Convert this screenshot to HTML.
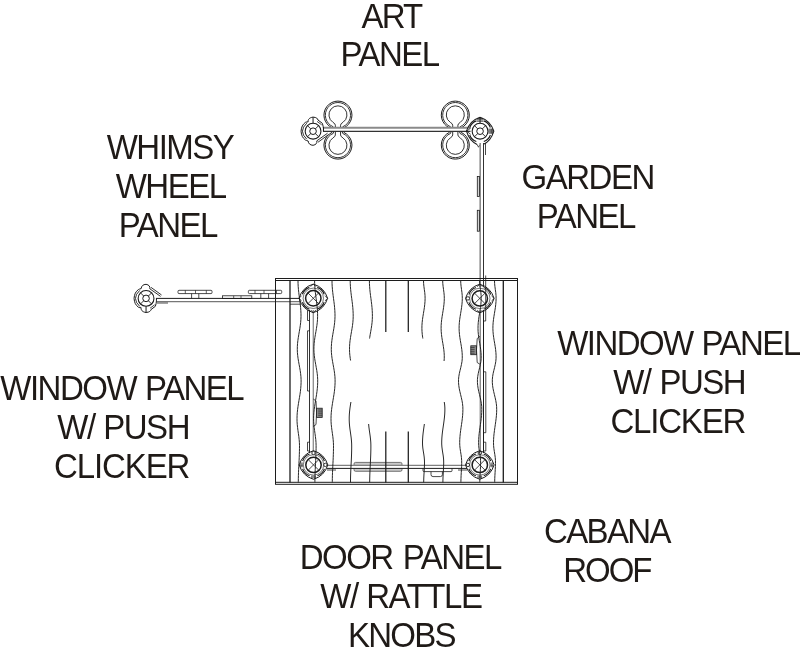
<!DOCTYPE html>
<html><head><meta charset="utf-8"><title>Cabana panel layout</title>
<style>
html,body{margin:0;padding:0;background:#fff;}
svg{display:block;will-change:transform;opacity:0.999}
text{font-family:"Liberation Sans",Arial,Helvetica,sans-serif;font-size:33px;fill:#1f1a17;}
</style></head><body>
<svg width="800" height="658" viewBox="0 0 800 658">
<text transform="matrix(1 0 0 1.04 0 -1.104)" x="391.45" y="27.60" text-anchor="middle" style="letter-spacing:-1.9px;word-spacing:0px">ART</text>
<text transform="matrix(1 0 0 1.04 0 -2.660)" x="389.55" y="66.50" text-anchor="middle" style="letter-spacing:-1.5px;word-spacing:0px">PANEL</text>
<text transform="matrix(1 0 0 1.04 0 -6.372)" x="170.05" y="159.30" text-anchor="middle" style="letter-spacing:-1.5px;word-spacing:0px">WHIMSY</text>
<text transform="matrix(1 0 0 1.04 0 -7.920)" x="170.65" y="198.00" text-anchor="middle" style="letter-spacing:-1.5px;word-spacing:0px">WHEEL</text>
<text transform="matrix(1 0 0 1.04 0 -9.480)" x="167.85" y="237.00" text-anchor="middle" style="letter-spacing:-1.5px;word-spacing:0px">PANEL</text>
<text transform="matrix(1 0 0 1.04 0 -7.544)" x="587.65" y="188.60" text-anchor="middle" style="letter-spacing:-1.5px;word-spacing:0px">GARDEN</text>
<text transform="matrix(1 0 0 1.04 0 -9.108)" x="585.85" y="227.70" text-anchor="middle" style="letter-spacing:-1.5px;word-spacing:0px">PANEL</text>
<text transform="matrix(1 0 0 1.04 0 -14.192)" x="678.37" y="354.80" text-anchor="middle" style="letter-spacing:-1.55px;word-spacing:1.2px">WINDOW PANEL</text>
<text transform="matrix(1 0 0 1.04 0 -15.752)" x="679.15" y="393.80" text-anchor="middle" style="letter-spacing:-1.5px;word-spacing:1.2px">W/ PUSH</text>
<text transform="matrix(1 0 0 1.04 0 -17.320)" x="677.80" y="433.00" text-anchor="middle" style="letter-spacing:-1.2px;word-spacing:0px">CLICKER</text>
<text transform="matrix(1 0 0 1.04 0 -15.988)" x="121.75" y="399.70" text-anchor="middle" style="letter-spacing:-1.5px;word-spacing:1.2px">WINDOW PANEL</text>
<text transform="matrix(1 0 0 1.04 0 -17.552)" x="123.15" y="438.80" text-anchor="middle" style="letter-spacing:-1.5px;word-spacing:1.0px">W/ PUSH</text>
<text transform="matrix(1 0 0 1.04 0 -19.112)" x="121.65" y="477.80" text-anchor="middle" style="letter-spacing:-1.1px;word-spacing:0px">CLICKER</text>
<text transform="matrix(1 0 0 1.04 0 -22.748)" x="400.27" y="568.70" text-anchor="middle" style="letter-spacing:-1.55px;word-spacing:2.5px">DOOR PANEL</text>
<text transform="matrix(1 0 0 1.04 0 -24.316)" x="400.93" y="607.90" text-anchor="middle" style="letter-spacing:-1.45px;word-spacing:0.7px">W/ RATTLE</text>
<text transform="matrix(1 0 0 1.04 0 -25.876)" x="401.38" y="646.90" text-anchor="middle" style="letter-spacing:-1.75px;word-spacing:0px">KNOBS</text>
<text transform="matrix(1 0 0 1.04 0 -21.728)" x="606.92" y="543.20" text-anchor="middle" style="letter-spacing:-1.65px;word-spacing:0px">CABANA</text>
<text transform="matrix(1 0 0 1.04 0 -23.300)" x="606.80" y="582.50" text-anchor="middle" style="letter-spacing:-2.0px;word-spacing:0px">ROOF</text>
<path d="M331.95,127.75 A14.0,14.0 0 1 1 343.95,127.75 Q341.75,130.10 343.95,132.45 A14.0,14.0 0 1 1 331.95,132.45 Q334.15,130.10 331.95,127.75 Z" fill="none" stroke="#1c1c1c" stroke-width="1.0" />
<path d="M333.15,126.75 A12.6,12.6 0 1 1 342.75,126.75 Q340.55,130.10 342.75,133.45 A12.6,12.6 0 1 1 333.15,133.45 Q335.35,130.10 333.15,126.75 Z" fill="none" stroke="#1c1c1c" stroke-width="0.9" />
<path d="M335.35,127.00 L335.35,125.22 Q335.35,123.72 332.95,122.32 A9.0,9.0 0 1 1 342.95,122.32 Q340.55,123.72 340.55,125.22 L340.55,127" fill="none" stroke="#1c1c1c" stroke-width="0.9" />
<path d="M335.35,132.00 L335.35,134.98 Q335.35,136.48 332.95,137.88 A9.0,9.0 0 1 0 342.95,137.88 Q340.55,136.48 340.55,134.98 L340.55,132" fill="none" stroke="#1c1c1c" stroke-width="0.9" />
<path d="M449.30,127.75 A14.0,14.0 0 1 1 461.30,127.75 Q459.10,130.10 461.30,132.45 A14.0,14.0 0 1 1 449.30,132.45 Q451.50,130.10 449.30,127.75 Z" fill="none" stroke="#1c1c1c" stroke-width="1.0" />
<path d="M450.50,126.75 A12.6,12.6 0 1 1 460.10,126.75 Q457.90,130.10 460.10,133.45 A12.6,12.6 0 1 1 450.50,133.45 Q452.70,130.10 450.50,126.75 Z" fill="none" stroke="#1c1c1c" stroke-width="0.9" />
<path d="M452.70,127.00 L452.70,125.22 Q452.70,123.72 450.30,122.32 A9.0,9.0 0 1 1 460.30,122.32 Q457.90,123.72 457.90,125.22 L457.90,127" fill="none" stroke="#1c1c1c" stroke-width="0.9" />
<path d="M452.70,132.00 L452.70,134.98 Q452.70,136.48 450.30,137.88 A9.0,9.0 0 1 0 460.30,137.88 Q457.90,136.48 457.90,134.98 L457.90,132" fill="none" stroke="#1c1c1c" stroke-width="0.9" />
<rect x="323.5" y="127.4" width="147" height="4.0" fill="#fff" stroke="none"/>
<line x1="323.50" y1="127.80" x2="470.50" y2="127.80" stroke="#8a8a8a" stroke-width="1.9"/>
<line x1="323.50" y1="131.40" x2="470.50" y2="131.40" stroke="#333" stroke-width="1.1"/>
<line x1="323.50" y1="127.00" x2="323.50" y2="131.60" stroke="#1c1c1c" stroke-width="0.9"/>
<g transform="translate(313.05,131.20) scale(1,1)">
<path d="M-4.9,-9.3 C-5.3,-11.5 -3.8,-13.6 0,-14.1 C3.6,-13.8 4.6,-12.6 4.9,-11.2 L9.3,-7.9 C10,-6 10.3,-4 10.4,-2.5 L10.4,0.5 M3.8,9.6 C4.2,11.8 3,13.6 0,14.1 C-3,13.9 -4.6,12.5 -4.9,9.8 C-6,9.6 -7,9.2 -7.7,8.8 C-10.5,6.5 -11.6,4.5 -12,0 C-11.6,-4.5 -10.5,-6.5 -7.7,-8.8 C-6.5,-9.3 -5.8,-9.4 -4.9,-9.3" fill="none" stroke="#1c1c1c" stroke-width="1.0" />
<path d="M3.8,9.6 L14.5,2.0 M5.0,11.0 L15.5,3.4" fill="none" stroke="#1c1c1c" stroke-width="0.9" />
<path d="M4.0,-9.8 L8.6,-6.4" fill="none" stroke="#1c1c1c" stroke-width="0.8" />
<path d="M-6.3,-8.0 Q-10.6,-4 -10.6,0 Q-10.6,4 -6.3,8.0" fill="none" stroke="#1c1c1c" stroke-width="0.9" />
<circle cx="0.00" cy="0.00" r="7.90" fill="none" stroke="#1c1c1c" stroke-width="1.1"/>
<circle cx="0.00" cy="0.00" r="3.30" fill="none" stroke="#1c1c1c" stroke-width="1.0"/>
<line x1="2.33" y1="2.33" x2="5.59" y2="5.59" stroke="#1c1c1c" stroke-width="0.9"/>
<line x1="-2.33" y1="2.33" x2="-5.59" y2="5.59" stroke="#1c1c1c" stroke-width="0.9"/>
<line x1="-2.33" y1="-2.33" x2="-5.59" y2="-5.59" stroke="#1c1c1c" stroke-width="0.9"/>
<line x1="2.33" y1="-2.33" x2="5.59" y2="-5.59" stroke="#1c1c1c" stroke-width="0.9"/>
<line x1="0.00" y1="-7.90" x2="0.00" y2="-14.00" stroke="#1c1c1c" stroke-width="1.0"/>
</g>
<g transform="translate(480.05,131.20)">
<path d="M0,-14.0 Q10.5,-10.5 13.8,0 Q10.5,10.5 3.5,13 M-3,13.2 Q-10.5,10 -13.6,0 Q-10.5,-10.5 0,-14.0" fill="none" stroke="#1c1c1c" stroke-width="1.1" />
<path d="M10.34,3.76 A11,11 0 0 1 3.76,10.34" fill="none" stroke="#1c1c1c" stroke-width="1.1" />
<path d="M-3.76,10.34 A11,11 0 0 1 -10.34,3.76" fill="none" stroke="#1c1c1c" stroke-width="1.1" />
<path d="M-10.34,-3.76 A11,11 0 0 1 -3.76,-10.34" fill="none" stroke="#1c1c1c" stroke-width="1.1" />
<path d="M3.76,-10.34 A11,11 0 0 1 10.34,-3.76" fill="none" stroke="#1c1c1c" stroke-width="1.1" />
<circle cx="0.00" cy="0.00" r="7.90" fill="none" stroke="#1c1c1c" stroke-width="1.1"/>
<circle cx="0.00" cy="0.00" r="3.30" fill="none" stroke="#1c1c1c" stroke-width="1.0"/>
<line x1="2.33" y1="2.33" x2="5.59" y2="5.59" stroke="#1c1c1c" stroke-width="0.9"/>
<line x1="-2.33" y1="2.33" x2="-5.59" y2="5.59" stroke="#1c1c1c" stroke-width="0.9"/>
<line x1="-2.33" y1="-2.33" x2="-5.59" y2="-5.59" stroke="#1c1c1c" stroke-width="0.9"/>
<line x1="2.33" y1="-2.33" x2="5.59" y2="-5.59" stroke="#1c1c1c" stroke-width="0.9"/>
<line x1="-2.60" y1="-12.80" x2="2.60" y2="-12.80" stroke="#1c1c1c" stroke-width="0.8"/>
<line x1="-3.40" y1="-11.40" x2="3.40" y2="-11.40" stroke="#1c1c1c" stroke-width="0.8"/>
<line x1="-3.40" y1="-10.00" x2="3.40" y2="-10.00" stroke="#1c1c1c" stroke-width="0.8"/>
<line x1="0.00" y1="-14.00" x2="0.00" y2="-7.90" stroke="#1c1c1c" stroke-width="1.0"/>
<line x1="9.00" y1="-2.60" x2="9.00" y2="2.60" stroke="#1c1c1c" stroke-width="0.8"/>
<line x1="10.20" y1="-2.60" x2="10.20" y2="2.60" stroke="#1c1c1c" stroke-width="0.8"/>
<line x1="11.40" y1="-2.60" x2="11.40" y2="2.60" stroke="#1c1c1c" stroke-width="0.8"/>
<line x1="12.60" y1="-2.60" x2="12.60" y2="2.60" stroke="#1c1c1c" stroke-width="0.8"/>
<path d="M-9.5,-3 L-13.5,0 L-9.5,3" fill="none" stroke="#1c1c1c" stroke-width="0.8" />
<path d="M-3,13.2 L-1.5,16 L0,13.5" fill="none" stroke="#1c1c1c" stroke-width="0.8" />
</g>
<line x1="480.20" y1="143.00" x2="480.20" y2="287.00" stroke="#8c8c8c" stroke-width="1.6"/>
<line x1="483.50" y1="143.00" x2="483.50" y2="287.00" stroke="#333" stroke-width="1.0"/>
<line x1="485.50" y1="143.00" x2="485.50" y2="155.00" stroke="#1c1c1c" stroke-width="0.8"/>
<line x1="485.70" y1="275.50" x2="485.70" y2="321.00" stroke="#1c1c1c" stroke-width="0.8"/>
<rect x="477.30" y="176.50" width="2.30" height="19.90" rx="0" fill="#d4d4d4" stroke="#1c1c1c" stroke-width="0.8"/>
<rect x="477.30" y="210.30" width="2.30" height="20.90" rx="0" fill="#d4d4d4" stroke="#1c1c1c" stroke-width="0.8"/>
<line x1="157.00" y1="298.40" x2="300.00" y2="298.40" stroke="#1c1c1c" stroke-width="1.0"/>
<line x1="157.00" y1="301.60" x2="300.00" y2="301.60" stroke="#777" stroke-width="1.3"/>
<line x1="157.00" y1="303.00" x2="168.00" y2="303.00" stroke="#1c1c1c" stroke-width="0.8"/>
<line x1="290.00" y1="304.20" x2="301.00" y2="304.20" stroke="#1c1c1c" stroke-width="0.8"/>
<rect x="178.00" y="290.30" width="34.00" height="3.30" rx="1" fill="none" stroke="#1c1c1c" stroke-width="0.8"/>
<line x1="185.30" y1="290.30" x2="185.30" y2="293.60" stroke="#1c1c1c" stroke-width="0.7"/>
<line x1="195.50" y1="290.30" x2="195.50" y2="293.60" stroke="#1c1c1c" stroke-width="0.7"/>
<line x1="206.30" y1="290.30" x2="206.30" y2="293.60" stroke="#1c1c1c" stroke-width="0.7"/>
<line x1="191.60" y1="293.60" x2="191.60" y2="298.50" stroke="#1c1c1c" stroke-width="0.8"/>
<line x1="198.80" y1="293.60" x2="198.80" y2="298.50" stroke="#1c1c1c" stroke-width="0.8"/>
<rect x="222.50" y="295.80" width="29.30" height="2.70" rx="0" fill="none" stroke="#1c1c1c" stroke-width="0.8"/>
<line x1="233.70" y1="295.80" x2="233.70" y2="298.50" stroke="#1c1c1c" stroke-width="0.7"/>
<line x1="241.00" y1="295.80" x2="241.00" y2="298.50" stroke="#1c1c1c" stroke-width="0.7"/>
<rect x="248.40" y="290.30" width="33.30" height="3.30" rx="1" fill="none" stroke="#1c1c1c" stroke-width="0.8"/>
<line x1="255.00" y1="290.30" x2="255.00" y2="293.60" stroke="#1c1c1c" stroke-width="0.7"/>
<line x1="264.00" y1="290.30" x2="264.00" y2="293.60" stroke="#1c1c1c" stroke-width="0.7"/>
<line x1="276.50" y1="290.30" x2="276.50" y2="293.60" stroke="#1c1c1c" stroke-width="0.7"/>
<line x1="260.80" y1="293.60" x2="260.80" y2="298.50" stroke="#1c1c1c" stroke-width="0.8"/>
<line x1="268.60" y1="293.60" x2="268.60" y2="298.50" stroke="#1c1c1c" stroke-width="0.8"/>
<g transform="translate(146.05,298.40) scale(1,-1)">
<path d="M-4.9,-9.3 C-5.3,-11.5 -3.8,-13.6 0,-14.1 C3.6,-13.8 4.6,-12.6 4.9,-11.2 L9.3,-7.9 C10,-6 10.3,-4 10.4,-2.5 L10.4,0.5 M3.8,9.6 C4.2,11.8 3,13.6 0,14.1 C-3,13.9 -4.6,12.5 -4.9,9.8 C-6,9.6 -7,9.2 -7.7,8.8 C-10.5,6.5 -11.6,4.5 -12,0 C-11.6,-4.5 -10.5,-6.5 -7.7,-8.8 C-6.5,-9.3 -5.8,-9.4 -4.9,-9.3" fill="none" stroke="#1c1c1c" stroke-width="1.0" />
<path d="M3.8,9.6 L14.5,2.0 M5.0,11.0 L15.5,3.4" fill="none" stroke="#1c1c1c" stroke-width="0.9" />
<path d="M4.0,-9.8 L8.6,-6.4" fill="none" stroke="#1c1c1c" stroke-width="0.8" />
<path d="M-6.3,-8.0 Q-10.6,-4 -10.6,0 Q-10.6,4 -6.3,8.0" fill="none" stroke="#1c1c1c" stroke-width="0.9" />
<circle cx="0.00" cy="0.00" r="7.90" fill="none" stroke="#1c1c1c" stroke-width="1.1"/>
<circle cx="0.00" cy="0.00" r="3.30" fill="none" stroke="#1c1c1c" stroke-width="1.0"/>
<line x1="2.33" y1="2.33" x2="5.59" y2="5.59" stroke="#1c1c1c" stroke-width="0.9"/>
<line x1="-2.33" y1="2.33" x2="-5.59" y2="5.59" stroke="#1c1c1c" stroke-width="0.9"/>
<line x1="-2.33" y1="-2.33" x2="-5.59" y2="-5.59" stroke="#1c1c1c" stroke-width="0.9"/>
<line x1="2.33" y1="-2.33" x2="5.59" y2="-5.59" stroke="#1c1c1c" stroke-width="0.9"/>
<line x1="0.00" y1="-7.90" x2="0.00" y2="-14.00" stroke="#1c1c1c" stroke-width="1.0"/>
</g>
<line x1="309.50" y1="310.00" x2="309.50" y2="453.00" stroke="#1c1c1c" stroke-width="0.9"/>
<line x1="313.30" y1="310.00" x2="313.30" y2="453.00" stroke="#8c8c8c" stroke-width="1.3"/>
<path d="M309.5,310.3 L307.5,310.3 L307.5,320.5 L309.5,320.5" fill="none" stroke="#1c1c1c" stroke-width="0.8" />
<path d="M309.5,330.8 L307.5,330.8 L307.5,391 L309.5,391" fill="none" stroke="#1c1c1c" stroke-width="0.8" />
<path d="M309.5,442.2 L307.5,442.2 L307.5,451 L309.5,451" fill="none" stroke="#1c1c1c" stroke-width="0.8" />
<path d="M313.3,399 L316,401 L316.6,412 L316,424.5 L313.3,426.5" fill="none" stroke="#1c1c1c" stroke-width="0.8" />
<rect x="316.60" y="408.20" width="5.60" height="9.20" rx="0" fill="#8a8a8a" stroke="#1c1c1c" stroke-width="0.8"/>
<line x1="318.20" y1="410.00" x2="322.20" y2="410.00" stroke="#1c1c1c" stroke-width="0.6"/>
<line x1="318.20" y1="411.90" x2="322.20" y2="411.90" stroke="#1c1c1c" stroke-width="0.6"/>
<line x1="318.20" y1="413.80" x2="322.20" y2="413.80" stroke="#1c1c1c" stroke-width="0.6"/>
<line x1="318.20" y1="415.70" x2="322.20" y2="415.70" stroke="#1c1c1c" stroke-width="0.6"/>
<line x1="480.30" y1="310.00" x2="480.30" y2="453.00" stroke="#8c8c8c" stroke-width="1.4"/>
<line x1="483.50" y1="310.00" x2="483.50" y2="453.00" stroke="#1c1c1c" stroke-width="1.0"/>
<path d="M485.7,321 L483.5,321" fill="none" stroke="#1c1c1c" stroke-width="0.8" />
<path d="M483.5,371.8 L485.8,371.8 L485.8,432.7 L483.5,432.7" fill="none" stroke="#1c1c1c" stroke-width="0.8" />
<path d="M483.5,442.2 L485.8,442.2 L485.8,451 L483.5,451" fill="none" stroke="#1c1c1c" stroke-width="0.8" />
<path d="M480.0,336.3 L477.2,338.5 L476.5,350 L477.2,362.5 L480.0,364.3" fill="none" stroke="#1c1c1c" stroke-width="0.8" />
<rect x="470.80" y="345.80" width="5.70" height="8.90" rx="0" fill="#8a8a8a" stroke="#1c1c1c" stroke-width="0.8"/>
<line x1="470.60" y1="347.50" x2="474.60" y2="347.50" stroke="#1c1c1c" stroke-width="0.6"/>
<line x1="470.60" y1="349.40" x2="474.60" y2="349.40" stroke="#1c1c1c" stroke-width="0.6"/>
<line x1="470.60" y1="351.30" x2="474.60" y2="351.30" stroke="#1c1c1c" stroke-width="0.6"/>
<line x1="470.60" y1="353.20" x2="474.60" y2="353.20" stroke="#1c1c1c" stroke-width="0.6"/>
<rect x="354.00" y="462.40" width="48.00" height="8.90" rx="1.5" fill="#c9c9c9" stroke="#555" stroke-width="0.8"/>
<rect x="327" y="465.4" width="140" height="3" fill="#fff"/>
<line x1="327.00" y1="465.30" x2="467.00" y2="465.30" stroke="#808080" stroke-width="1.2"/>
<line x1="327.00" y1="468.40" x2="467.00" y2="468.40" stroke="#1c1c1c" stroke-width="1.0"/>
<line x1="327.00" y1="470.00" x2="336.00" y2="470.00" stroke="#1c1c1c" stroke-width="0.8"/>
<line x1="458.00" y1="470.00" x2="467.00" y2="470.00" stroke="#1c1c1c" stroke-width="0.8"/>
<path d="M423,468.4 L423,470.6 Q423,471.6 424,471.6 L451,471.6 Q452,471.6 452,470.6 L452,468.4" fill="none" stroke="#1c1c1c" stroke-width="0.8" />
<path d="M431,471.6 L431,474.5 Q431,476.6 433,476.6 L440.4,476.6 Q442.4,476.6 442.4,474.5 L442.4,471.6" fill="none" stroke="#1c1c1c" stroke-width="0.8" />
<g transform="translate(313.30,298.30)">
<path d="M0,-14.2 Q11,-11 14.3,0 Q11,11 0,14.4 Q-11,11 -14.3,0 Q-11,-11 0,-14.2 Z" fill="none" stroke="#1c1c1c" stroke-width="1.0" />
<path d="M10.90,3.97 A11.6,11.6 0 0 1 3.97,10.90" fill="none" stroke="#1c1c1c" stroke-width="1.2" />
<path d="M-3.97,10.90 A11.6,11.6 0 0 1 -10.90,3.97" fill="none" stroke="#1c1c1c" stroke-width="1.2" />
<path d="M-10.90,-3.97 A11.6,11.6 0 0 1 -3.97,-10.90" fill="none" stroke="#1c1c1c" stroke-width="1.2" />
<path d="M3.97,-10.90 A11.6,11.6 0 0 1 10.90,-3.97" fill="none" stroke="#1c1c1c" stroke-width="1.2" />
<circle cx="0.00" cy="0.00" r="10.20" fill="none" stroke="#1c1c1c" stroke-width="0.6"/>
<circle cx="0.00" cy="0.00" r="7.70" fill="none" stroke="#1c1c1c" stroke-width="1.5"/>
<line x1="-5.30" y1="-5.30" x2="5.30" y2="5.30" stroke="#1c1c1c" stroke-width="0.8"/>
<line x1="-5.30" y1="5.30" x2="5.30" y2="-5.30" stroke="#1c1c1c" stroke-width="0.8"/>
<path d="M11.70,2.60 L14.30,0.00 L11.70,-2.60" fill="none" stroke="#1c1c1c" stroke-width="0.8" />
<path d="M-2.60,11.70 L0.00,14.30 L2.60,11.70" fill="none" stroke="#1c1c1c" stroke-width="0.8" />
<path d="M-11.70,-2.60 L-14.30,0.00 L-11.70,2.60" fill="none" stroke="#1c1c1c" stroke-width="0.8" />
<path d="M2.60,-11.70 L-0.00,-14.30 L-2.60,-11.70" fill="none" stroke="#1c1c1c" stroke-width="0.8" />
</g>
<g transform="translate(479.80,298.40)">
<path d="M0,-14.2 Q11,-11 14.3,0 Q11,11 0,14.4 Q-11,11 -14.3,0 Q-11,-11 0,-14.2 Z" fill="none" stroke="#1c1c1c" stroke-width="1.0" />
<path d="M10.90,3.97 A11.6,11.6 0 0 1 3.97,10.90" fill="none" stroke="#1c1c1c" stroke-width="1.2" />
<path d="M-3.97,10.90 A11.6,11.6 0 0 1 -10.90,3.97" fill="none" stroke="#1c1c1c" stroke-width="1.2" />
<path d="M-10.90,-3.97 A11.6,11.6 0 0 1 -3.97,-10.90" fill="none" stroke="#1c1c1c" stroke-width="1.2" />
<path d="M3.97,-10.90 A11.6,11.6 0 0 1 10.90,-3.97" fill="none" stroke="#1c1c1c" stroke-width="1.2" />
<circle cx="0.00" cy="0.00" r="10.20" fill="none" stroke="#1c1c1c" stroke-width="0.6"/>
<circle cx="0.00" cy="0.00" r="7.70" fill="none" stroke="#1c1c1c" stroke-width="1.5"/>
<line x1="-5.30" y1="-5.30" x2="5.30" y2="5.30" stroke="#1c1c1c" stroke-width="0.8"/>
<line x1="-5.30" y1="5.30" x2="5.30" y2="-5.30" stroke="#1c1c1c" stroke-width="0.8"/>
<path d="M11.70,2.60 L14.30,0.00 L11.70,-2.60" fill="none" stroke="#1c1c1c" stroke-width="0.8" />
<path d="M-2.60,11.70 L0.00,14.30 L2.60,11.70" fill="none" stroke="#1c1c1c" stroke-width="0.8" />
<circle cx="-11.90" cy="0.00" r="1.70" fill="#fff" stroke="#1c1c1c" stroke-width="0.9"/>
<path d="M2.60,-11.70 L-0.00,-14.30 L-2.60,-11.70" fill="none" stroke="#1c1c1c" stroke-width="0.8" />
</g>
<g transform="translate(313.50,464.90)">
<path d="M0,-14.2 Q11,-11 14.3,0 Q11,11 0,14.4 Q-11,11 -14.3,0 Q-11,-11 0,-14.2 Z" fill="none" stroke="#1c1c1c" stroke-width="1.0" />
<path d="M10.90,3.97 A11.6,11.6 0 0 1 3.97,10.90" fill="none" stroke="#1c1c1c" stroke-width="1.2" />
<path d="M-3.97,10.90 A11.6,11.6 0 0 1 -10.90,3.97" fill="none" stroke="#1c1c1c" stroke-width="1.2" />
<path d="M-10.90,-3.97 A11.6,11.6 0 0 1 -3.97,-10.90" fill="none" stroke="#1c1c1c" stroke-width="1.2" />
<path d="M3.97,-10.90 A11.6,11.6 0 0 1 10.90,-3.97" fill="none" stroke="#1c1c1c" stroke-width="1.2" />
<circle cx="0.00" cy="0.00" r="10.20" fill="none" stroke="#1c1c1c" stroke-width="0.6"/>
<circle cx="0.00" cy="0.00" r="7.70" fill="none" stroke="#1c1c1c" stroke-width="1.5"/>
<line x1="-5.30" y1="-5.30" x2="5.30" y2="5.30" stroke="#1c1c1c" stroke-width="0.8"/>
<line x1="-5.30" y1="5.30" x2="5.30" y2="-5.30" stroke="#1c1c1c" stroke-width="0.8"/>
<circle cx="11.90" cy="0.00" r="1.70" fill="#fff" stroke="#1c1c1c" stroke-width="0.9"/>
<line x1="1.80" y1="10.60" x2="1.80" y2="13.40" stroke="#1c1c1c" stroke-width="0.7"/>
<line x1="0.60" y1="10.60" x2="0.60" y2="13.40" stroke="#1c1c1c" stroke-width="0.7"/>
<line x1="-0.60" y1="10.60" x2="-0.60" y2="13.40" stroke="#1c1c1c" stroke-width="0.7"/>
<line x1="-1.80" y1="10.60" x2="-1.80" y2="13.40" stroke="#1c1c1c" stroke-width="0.7"/>
<line x1="-10.60" y1="1.80" x2="-13.40" y2="1.80" stroke="#1c1c1c" stroke-width="0.7"/>
<line x1="-10.60" y1="0.60" x2="-13.40" y2="0.60" stroke="#1c1c1c" stroke-width="0.7"/>
<line x1="-10.60" y1="-0.60" x2="-13.40" y2="-0.60" stroke="#1c1c1c" stroke-width="0.7"/>
<line x1="-10.60" y1="-1.80" x2="-13.40" y2="-1.80" stroke="#1c1c1c" stroke-width="0.7"/>
<circle cx="-0.00" cy="-11.90" r="1.70" fill="#fff" stroke="#1c1c1c" stroke-width="0.9"/>
</g>
<g transform="translate(479.80,464.90)">
<path d="M0,-14.2 Q11,-11 14.3,0 Q11,11 0,14.4 Q-11,11 -14.3,0 Q-11,-11 0,-14.2 Z" fill="none" stroke="#1c1c1c" stroke-width="1.0" />
<path d="M10.90,3.97 A11.6,11.6 0 0 1 3.97,10.90" fill="none" stroke="#1c1c1c" stroke-width="1.2" />
<path d="M-3.97,10.90 A11.6,11.6 0 0 1 -10.90,3.97" fill="none" stroke="#1c1c1c" stroke-width="1.2" />
<path d="M-10.90,-3.97 A11.6,11.6 0 0 1 -3.97,-10.90" fill="none" stroke="#1c1c1c" stroke-width="1.2" />
<path d="M3.97,-10.90 A11.6,11.6 0 0 1 10.90,-3.97" fill="none" stroke="#1c1c1c" stroke-width="1.2" />
<circle cx="0.00" cy="0.00" r="10.20" fill="none" stroke="#1c1c1c" stroke-width="0.6"/>
<circle cx="0.00" cy="0.00" r="7.70" fill="none" stroke="#1c1c1c" stroke-width="1.5"/>
<line x1="-5.30" y1="-5.30" x2="5.30" y2="5.30" stroke="#1c1c1c" stroke-width="0.8"/>
<line x1="-5.30" y1="5.30" x2="5.30" y2="-5.30" stroke="#1c1c1c" stroke-width="0.8"/>
<line x1="10.60" y1="-1.80" x2="13.40" y2="-1.80" stroke="#1c1c1c" stroke-width="0.7"/>
<line x1="10.60" y1="-0.60" x2="13.40" y2="-0.60" stroke="#1c1c1c" stroke-width="0.7"/>
<line x1="10.60" y1="0.60" x2="13.40" y2="0.60" stroke="#1c1c1c" stroke-width="0.7"/>
<line x1="10.60" y1="1.80" x2="13.40" y2="1.80" stroke="#1c1c1c" stroke-width="0.7"/>
<line x1="1.80" y1="10.60" x2="1.80" y2="13.40" stroke="#1c1c1c" stroke-width="0.7"/>
<line x1="0.60" y1="10.60" x2="0.60" y2="13.40" stroke="#1c1c1c" stroke-width="0.7"/>
<line x1="-0.60" y1="10.60" x2="-0.60" y2="13.40" stroke="#1c1c1c" stroke-width="0.7"/>
<line x1="-1.80" y1="10.60" x2="-1.80" y2="13.40" stroke="#1c1c1c" stroke-width="0.7"/>
<circle cx="-11.90" cy="0.00" r="1.70" fill="#fff" stroke="#1c1c1c" stroke-width="0.9"/>
<circle cx="-0.00" cy="-11.90" r="1.70" fill="#fff" stroke="#1c1c1c" stroke-width="0.9"/>
</g>
<rect x="275.50" y="278.50" width="242.00" height="205.80" rx="0" fill="none" stroke="#1c1c1c" stroke-width="1.0"/>
<line x1="275.50" y1="280.50" x2="517.50" y2="280.50" stroke="#1c1c1c" stroke-width="1.0"/>
<line x1="275.50" y1="482.30" x2="517.50" y2="482.30" stroke="#1c1c1c" stroke-width="1.0"/>
<line x1="290.00" y1="280.60" x2="290.00" y2="482.40" stroke="#1c1c1c" stroke-width="1.3"/>
<line x1="503.30" y1="280.60" x2="503.30" y2="482.40" stroke="#1c1c1c" stroke-width="1.3"/>
<line x1="385.80" y1="280.60" x2="385.80" y2="332.00" stroke="#1c1c1c" stroke-width="1.25"/>
<line x1="385.80" y1="431.50" x2="385.80" y2="482.40" stroke="#1c1c1c" stroke-width="1.25"/>
<line x1="408.30" y1="280.60" x2="408.30" y2="332.00" stroke="#1c1c1c" stroke-width="1.25"/>
<line x1="408.30" y1="431.50" x2="408.30" y2="482.40" stroke="#1c1c1c" stroke-width="1.25"/>
<path d="M298.00,280.60 L298.05,283.60 L298.21,286.60 L298.45,289.60 L298.77,292.60 L299.14,295.60 L299.54,298.60 L299.93,301.60 L300.30,304.60 L300.60,307.60 L300.83,310.60 L300.97,313.60 L301.00,316.60 L300.89,319.60 L300.65,322.60 L300.28,325.60 L299.82,328.60 L299.31,331.60 L298.78,334.60 L298.29,337.60 L297.86,340.60 L297.54,343.60 L297.35,346.60 L297.30,349.60 L297.42,352.60 L297.69,355.60 L298.08,358.60 L298.58,361.60 L299.13,364.60 L299.68,367.60 L300.19,370.60 L300.62,373.60 L300.93,376.60 L301.08,379.60 L301.08,382.60 L300.95,385.60 L300.71,388.60 L300.36,391.60 L299.94,394.60 L299.45,397.60 L298.95,400.60 L298.45,403.60 L297.99,406.60 L297.59,409.60 L297.28,412.60 L297.08,415.60 L297.00,418.60 L297.06,421.60 L297.26,424.60 L297.58,427.60 L297.98,430.60 L298.41,433.60 L298.82,436.60 L299.17,439.60 L299.40,442.60 L299.50,445.60 L299.48,448.60 L299.43,451.60 L299.34,454.60 L299.22,457.60 L299.08,460.60 L298.93,463.60 L298.78,466.60 L298.63,469.60 L298.50,472.60 L298.40,475.60 L298.33,478.60 L298.30,481.60 L298.30,482.40" fill="none" stroke="#1c1c1c" stroke-width="0.95" />
<path d="M314.60,280.60 L314.65,283.60 L314.81,286.60 L315.05,289.60 L315.37,292.60 L315.74,295.60 L316.14,298.60 L316.53,301.60 L316.90,304.60 L317.20,307.60 L317.43,310.60 L317.57,313.60 L317.60,316.60 L317.49,319.60 L317.25,322.60 L316.88,325.60 L316.42,328.60 L315.91,331.60 L315.38,334.60 L314.89,337.60 L314.46,340.60 L314.14,343.60 L313.95,346.60 L313.90,349.60 L314.02,352.60 L314.29,355.60 L314.68,358.60 L315.18,361.60 L315.73,364.60 L316.28,367.60 L316.79,370.60 L317.22,373.60 L317.53,376.60 L317.68,379.60 L317.68,382.60 L317.55,385.60 L317.31,388.60 L316.96,391.60 L316.54,394.60 L316.05,397.60 L315.55,400.60 L315.05,403.60 L314.59,406.60 L314.19,409.60 L313.88,412.60 L313.68,415.60 L313.60,418.60 L313.66,421.60 L313.86,424.60 L314.18,427.60 L314.58,430.60 L315.01,433.60 L315.42,436.60 L315.77,439.60 L316.00,442.60 L316.10,445.60 L316.08,448.60 L316.03,451.60 L315.94,454.60 L315.82,457.60 L315.68,460.60 L315.53,463.60 L315.38,466.60 L315.23,469.60 L315.10,472.60 L315.00,475.60 L314.93,478.60 L314.90,481.60 L314.90,482.40" fill="none" stroke="#1c1c1c" stroke-width="0.95" />
<path d="M332.00,280.60 L332.05,283.60 L332.21,286.60 L332.45,289.60 L332.77,292.60 L333.14,295.60 L333.54,298.60 L333.93,301.60 L334.30,304.60 L334.60,307.60 L334.83,310.60 L334.97,313.60 L335.00,316.60 L334.89,319.60 L334.65,322.60 L334.28,325.60 L333.82,328.60 L333.31,331.60 L332.78,334.60 L332.29,337.60 L331.86,340.60 L331.54,343.60 L331.35,346.60 L331.30,349.60 L331.42,352.60 L331.69,355.60 L332.08,358.60 L332.58,361.60 L333.13,364.60 L333.68,367.60 L334.19,370.60 L334.62,373.60 L334.93,376.60 L335.08,379.60 L335.08,382.60 L334.95,385.60 L334.71,388.60 L334.36,391.60 L333.94,394.60 L333.45,397.60 L332.95,400.60 L332.45,403.60 L331.99,406.60 L331.59,409.60 L331.28,412.60 L331.08,415.60 L331.00,418.60 L331.06,421.60 L331.26,424.60 L331.58,427.60 L331.98,430.60 L332.41,433.60 L332.82,436.60 L333.17,439.60 L333.40,442.60 L333.50,445.60 L333.48,448.60 L333.43,451.60 L333.34,454.60 L333.22,457.60 L333.08,460.60 L332.93,463.60 L332.78,466.60 L332.63,469.60 L332.50,472.60 L332.40,475.60 L332.33,478.60 L332.30,481.60 L332.30,482.40" fill="none" stroke="#1c1c1c" stroke-width="0.95" />
<path d="M460.70,280.60 L460.81,283.60 L461.13,286.60 L461.54,289.60 L461.95,292.60 L462.23,295.60 L462.30,298.60 L462.19,301.60 L461.93,304.60 L461.56,307.60 L461.10,310.60 L460.60,313.60 L460.11,316.60 L459.68,319.60 L459.35,322.60 L459.15,325.60 L459.10,328.60 L459.22,331.60 L459.49,334.60 L459.89,337.60 L460.37,340.60 L460.89,343.60 L461.39,346.60 L461.81,349.60 L462.12,352.60 L462.28,355.60 L462.26,358.60 L461.97,361.60 L461.43,364.60 L460.75,367.60 L460.00,370.60 L459.32,373.60 L458.81,376.60 L458.53,379.60 L458.54,382.60 L458.79,385.60 L459.25,388.60 L459.88,391.60 L460.60,394.60 L461.33,397.60 L461.99,400.60 L462.51,403.60 L462.82,406.60 L462.90,409.60 L462.81,412.60 L462.61,415.60 L462.31,418.60 L461.93,421.60 L461.51,424.60 L461.06,427.60 L460.64,430.60 L460.27,433.60 L459.97,436.60 L459.78,439.60 L459.70,442.60 L459.79,445.60 L460.10,448.60 L460.55,451.60 L461.04,454.60 L461.45,457.60 L461.67,460.60 L461.69,463.60 L461.60,466.60 L461.46,469.60 L461.28,472.60 L461.10,475.60 L460.97,478.60 L460.90,481.60 L460.90,482.40" fill="none" stroke="#1c1c1c" stroke-width="0.95" />
<path d="M479.60,280.60 L479.71,283.60 L480.03,286.60 L480.44,289.60 L480.85,292.60 L481.13,295.60 L481.20,298.60 L481.09,301.60 L480.83,304.60 L480.46,307.60 L480.00,310.60 L479.50,313.60 L479.01,316.60 L478.58,319.60 L478.25,322.60 L478.05,325.60 L478.00,328.60 L478.12,331.60 L478.39,334.60 L478.79,337.60 L479.27,340.60 L479.79,343.60 L480.29,346.60 L480.71,349.60 L481.02,352.60 L481.18,355.60 L481.16,358.60 L480.87,361.60 L480.33,364.60 L479.65,367.60 L478.90,370.60 L478.22,373.60 L477.71,376.60 L477.43,379.60 L477.44,382.60 L477.69,385.60 L478.15,388.60 L478.78,391.60 L479.50,394.60 L480.23,397.60 L480.89,400.60 L481.41,403.60 L481.72,406.60 L481.80,409.60 L481.71,412.60 L481.51,415.60 L481.21,418.60 L480.83,421.60 L480.41,424.60 L479.96,427.60 L479.54,430.60 L479.17,433.60 L478.87,436.60 L478.68,439.60 L478.60,442.60 L478.69,445.60 L479.00,448.60 L479.45,451.60 L479.94,454.60 L480.35,457.60 L480.57,460.60 L480.59,463.60 L480.50,466.60 L480.36,469.60 L480.18,472.60 L480.00,475.60 L479.87,478.60 L479.80,481.60 L479.80,482.40" fill="none" stroke="#1c1c1c" stroke-width="0.95" />
<path d="M494.50,280.60 L494.61,283.60 L494.93,286.60 L495.34,289.60 L495.75,292.60 L496.03,295.60 L496.10,298.60 L495.99,301.60 L495.73,304.60 L495.36,307.60 L494.90,310.60 L494.40,313.60 L493.91,316.60 L493.48,319.60 L493.15,322.60 L492.95,325.60 L492.90,328.60 L493.02,331.60 L493.29,334.60 L493.69,337.60 L494.17,340.60 L494.69,343.60 L495.19,346.60 L495.61,349.60 L495.92,352.60 L496.08,355.60 L496.06,358.60 L495.77,361.60 L495.23,364.60 L494.55,367.60 L493.80,370.60 L493.12,373.60 L492.61,376.60 L492.33,379.60 L492.34,382.60 L492.59,385.60 L493.05,388.60 L493.68,391.60 L494.40,394.60 L495.13,397.60 L495.79,400.60 L496.31,403.60 L496.62,406.60 L496.70,409.60 L496.61,412.60 L496.41,415.60 L496.11,418.60 L495.73,421.60 L495.31,424.60 L494.86,427.60 L494.44,430.60 L494.07,433.60 L493.77,436.60 L493.58,439.60 L493.50,442.60 L493.59,445.60 L493.90,448.60 L494.35,451.60 L494.84,454.60 L495.25,457.60 L495.47,460.60 L495.49,463.60 L495.40,466.60 L495.26,469.60 L495.08,472.60 L494.90,475.60 L494.77,478.60 L494.70,481.60 L494.70,482.40" fill="none" stroke="#1c1c1c" stroke-width="0.95" />
<path d="M350.20,280.60 L350.25,283.60 L350.41,286.60 L350.65,289.60 L350.97,292.60 L351.34,295.60 L351.74,298.60 L352.13,301.60 L352.50,304.60 L352.80,307.60 L353.03,310.60 L353.17,313.60 L353.20,316.60 L353.09,319.60 L352.85,322.60 L352.48,325.60 L352.02,328.60 L351.51,331.60 L350.98,334.60 L350.49,337.60 L350.06,340.60 L349.74,343.60 L349.55,346.60 L349.50,349.60 L349.62,352.60 L349.89,355.60 L350.28,358.60 L350.59,360.50" fill="none" stroke="#1c1c1c" stroke-width="0.95" />
<path d="M350.91,402.00 L350.43,405.00 L349.99,408.00 L349.63,411.00 L349.37,414.00 L349.23,417.00 L349.21,420.00 L349.33,423.00 L349.59,426.00 L349.95,429.00 L350.38,432.00 L350.81,435.00 L351.20,438.00 L351.49,441.00 L351.67,444.00 L351.70,447.00 L351.66,450.00 L351.59,453.00 L351.49,456.00 L351.36,459.00 L351.21,462.00 L351.06,465.00 L350.91,468.00 L350.77,471.00 L350.65,474.00 L350.56,477.00 L350.51,480.00 L350.50,482.40" fill="none" stroke="#1c1c1c" stroke-width="0.95" />
<path d="M444.26,402.00 L444.68,405.00 L444.89,408.00 L444.87,411.00 L444.73,414.00 L444.48,417.00 L444.14,420.00 L443.74,423.00 L443.30,426.00 L442.86,429.00 L442.46,432.00 L442.12,435.00 L441.87,438.00 L441.73,441.00 L441.71,444.00 L441.91,447.00 L442.30,450.00 L442.78,453.00 L443.25,456.00 L443.58,459.00 L443.70,462.00 L443.66,465.00 L443.54,468.00 L443.37,471.00 L443.19,474.00 L443.03,477.00 L442.93,480.00 L442.90,482.40" fill="none" stroke="#1c1c1c" stroke-width="0.95" />
<path d="M442.70,280.60 L442.81,283.60 L443.13,286.60 L443.54,289.60 L443.95,292.60 L444.23,295.60 L444.30,298.60 L444.19,301.60 L443.93,304.60 L443.56,307.60 L443.10,310.60 L442.60,313.60 L442.11,316.60 L441.68,319.60 L441.35,322.60 L441.15,325.60 L441.10,328.60 L441.22,331.60 L441.49,334.60 L441.89,337.60 L442.37,340.60 L442.89,343.60 L443.39,346.60 L443.81,349.60 L444.12,352.60 L444.28,355.60 L444.26,358.60 L444.05,361.00" fill="none" stroke="#1c1c1c" stroke-width="0.95" />
<path d="M369.40,280.60 L369.45,283.60 L369.61,286.60 L369.85,289.60 L370.17,292.60 L370.54,295.60 L370.94,298.60 L371.33,301.60 L371.70,304.60 L372.00,307.60 L372.23,310.60 L372.37,313.60 L372.40,316.60 L372.29,319.60 L372.05,322.60 L371.68,325.60 L371.22,328.60 L370.71,331.60 L370.18,334.60 L369.69,337.60 L369.55,338.50" fill="none" stroke="#1c1c1c" stroke-width="0.95" />
<path d="M368.61,424.00 L368.90,427.00 L369.29,430.00 L369.72,433.00 L370.15,436.00 L370.51,439.00 L370.77,442.00 L370.89,445.00 L370.89,448.00 L370.84,451.00 L370.76,454.00 L370.65,457.00 L370.51,460.00 L370.36,463.00 L370.21,466.00 L370.06,469.00 L369.93,472.00 L369.82,475.00 L369.74,478.00 L369.70,481.00 L369.70,482.40" fill="none" stroke="#1c1c1c" stroke-width="0.95" />
<path d="M423.50,280.60 L423.61,283.60 L423.93,286.60 L424.34,289.60 L424.75,292.60 L425.03,295.60 L425.10,298.60 L424.99,301.60 L424.73,304.60 L424.36,307.60 L423.90,310.60 L423.40,313.60 L422.91,316.60 L422.48,319.60 L422.15,322.60 L421.95,325.60 L421.90,328.60 L422.02,331.60 L422.29,334.60 L422.69,337.60 L422.83,338.50" fill="none" stroke="#1c1c1c" stroke-width="0.95" />
<path d="M424.39,424.00 L423.95,427.00 L423.52,430.00 L423.14,433.00 L422.82,436.00 L422.61,439.00 L422.51,442.00 L422.55,445.00 L422.82,448.00 L423.25,451.00 L423.75,454.00 L424.18,457.00 L424.45,460.00 L424.50,463.00 L424.43,466.00 L424.29,469.00 L424.11,472.00 L423.93,475.00 L423.79,478.00 L423.71,481.00 L423.70,482.40" fill="none" stroke="#1c1c1c" stroke-width="0.95" />
</svg>
</body></html>
